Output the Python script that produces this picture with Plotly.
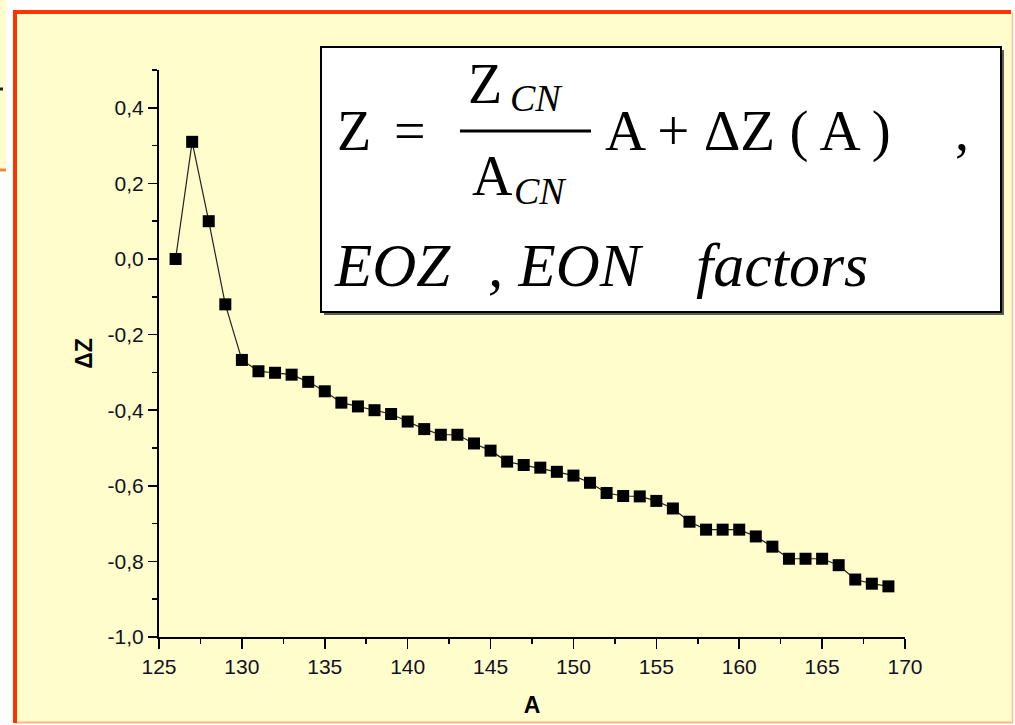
import plotly.graph_objects as go

# ---------------- data ----------------
A_values = [126, 127, 128, 129, 130, 131, 132, 133, 134, 135, 136, 137, 138, 139, 140,
            141, 142, 143, 144, 145, 146, 147, 148, 149, 150, 151, 152, 153, 154, 155,
            156, 157, 158, 159, 160, 161, 162, 163, 164, 165, 166, 167, 168, 169]
dZ_values = [0.00, 0.31, 0.10, -0.12, -0.267, -0.297, -0.301, -0.306, -0.325, -0.35,
             -0.38, -0.39, -0.40, -0.41, -0.43, -0.45, -0.465, -0.465, -0.488, -0.507,
             -0.536, -0.545, -0.552, -0.563, -0.573, -0.592, -0.619, -0.627, -0.628, -0.64,
             -0.66, -0.695, -0.716, -0.716, -0.716, -0.734, -0.761, -0.793, -0.793, -0.793,
             -0.81, -0.848, -0.859, -0.866]

x_tick_vals = [125, 130, 135, 140, 145, 150, 155, 160, 165, 170]
x_tick_text = ["125", "130", "135", "140", "145", "150", "155", "160", "165", "170"]
y_tick_vals = [-1.0, -0.8, -0.6, -0.4, -0.2, 0.0, 0.2, 0.4]
y_tick_text = ["-1,0", "-0,8", "-0,6", "-0,4", "-0,2", "0,0", "0,2", "0,4"]

x_title = "A"
y_title = "ΔZ"

# ---------------- layout geometry ----------------
W, H = 1015, 725
L, R, T, B = 159, 110, 70, 88
PW, PH = W - L - R, H - T - B
CREAM = "#FFFDCC"
RED = "#FF3300"


def px(x):
    return (x - L) / PW


def py(y):
    return (H - B - y) / PH


fig = go.Figure()
fig.add_trace(go.Scatter(
    x=A_values, y=dZ_values, mode="lines+markers",
    line=dict(color="#222222", width=1.2),
    marker=dict(symbol="square", size=12, color="black", line=dict(width=0)),
    showlegend=False, hoverinfo="skip", xaxis="x", yaxis="y"))

axis_font = dict(family="Liberation Sans, Arial, sans-serif", size=21, color="#111122")
title_font = dict(family="Liberation Sans, Arial, sans-serif", size=23, color="black")

common_x = dict(range=[125, 170], tickmode="array", tickvals=x_tick_vals,
                showgrid=False, zeroline=False, showline=True, linecolor="black",
                linewidth=2, tickcolor="black", tickwidth=1.5)
common_y = dict(range=[-1.0, 0.5], tickmode="array", tickvals=y_tick_vals,
                showgrid=False, zeroline=False, showline=True, linecolor="black",
                linewidth=2, tickcolor="black", tickwidth=1.5)

fig.update_layout(
    width=W, height=H,
    margin=dict(l=L, r=R, t=T, b=B, pad=0),
    paper_bgcolor="white", plot_bgcolor="rgba(0,0,0,0)",
    showlegend=False, hovermode=False,
    xaxis=dict(**common_x, ticktext=x_tick_text, ticks="outside", ticklen=10,
               tickfont=axis_font,
               minor=dict(tickmode="linear", tick0=125, dtick=2.5, ticks="outside",
                          ticklen=5, tickwidth=1.5, tickcolor="black"),
               title=dict(text="<b>" + x_title + "</b>", standoff=20, font=title_font)),
    yaxis=dict(**common_y, ticktext=y_tick_text, ticks="outside", ticklen=9,
               tickfont=axis_font,
               minor=dict(tickmode="linear", tick0=-1.0, dtick=0.1, ticks="outside",
                          ticklen=5, tickwidth=1.5, tickcolor="black"),
               title=dict(text="<b>" + y_title + "</b>", standoff=9, font=title_font)),
    xaxis2=dict(**common_x, overlaying="x", anchor="y", side="top", ticks="inside",
                ticklen=10, showticklabels=False,
                minor=dict(tickmode="linear", tick0=125, dtick=2.5, ticks="inside",
                           ticklen=5, tickwidth=1.5, tickcolor="black")),
    yaxis2=dict(**common_y, overlaying="y", anchor="x", side="right", ticks="inside",
                ticklen=9, showticklabels=False,
                minor=dict(tickmode="linear", tick0=-1.0, dtick=0.1, ticks="inside",
                           ticklen=5, tickwidth=1.5, tickcolor="black")),
)

shapes = []
# background slide elements (below)
shapes.append(dict(type="rect", xref="paper", yref="paper", layer="below",
                   x0=px(0), x1=px(6), y0=py(0), y1=py(169), fillcolor=CREAM, line=dict(width=0)))
shapes.append(dict(type="line", xref="paper", yref="paper", layer="below",
                   x0=px(0), x1=px(6), y0=py(170), y1=py(170), line=dict(color="#F08A3A", width=3)))
shapes.append(dict(type="line", xref="paper", yref="paper", layer="below",
                   x0=px(0), x1=px(3), y0=py(89), y1=py(89), line=dict(color="#222222", width=3)))
shapes.append(dict(type="rect", xref="paper", yref="paper", layer="below",
                   x0=px(15), x1=px(1012), y0=py(12), y1=py(722), fillcolor=CREAM, line=dict(width=0)))
shapes.append(dict(type="line", xref="paper", yref="paper", layer="below",
                   x0=px(1012.5), x1=px(1012.5), y0=py(13), y1=py(723), line=dict(color="#FFBE96", width=1.5)))
shapes.append(dict(type="line", xref="paper", yref="paper", layer="below",
                   x0=px(15), x1=px(1013), y0=py(722.5), y1=py(722.5), line=dict(color="#FFB48A", width=2)))
shapes.append(dict(type="line", xref="paper", yref="paper", layer="below",
                   x0=px(15), x1=px(15), y0=py(10), y1=py(723), line=dict(color=RED, width=4)))
shapes.append(dict(type="line", xref="paper", yref="paper", layer="below",
                   x0=px(13), x1=px(1011), y0=py(12), y1=py(12), line=dict(color=RED, width=4)))
# formula box (above)
shapes.append(dict(type="rect", xref="paper", yref="paper", layer="above",
                   x0=px(324), x1=px(1004), y0=py(50), y1=py(315),
                   fillcolor="rgba(40,40,40,0.75)", line=dict(width=0)))
shapes.append(dict(type="rect", xref="paper", yref="paper", layer="above",
                   x0=px(321), x1=px(1001), y0=py(47), y1=py(312),
                   fillcolor="white", line=dict(color="black", width=2)))
shapes.append(dict(type="line", xref="paper", yref="paper", layer="above",
                   x0=px(460), x1=px(591), y0=py(131), y1=py(131),
                   line=dict(color="black", width=3)))
fig.update_layout(shapes=shapes)

SERIF = "Liberation Serif, Times New Roman, serif"


def note(text, x, y, size, xanchor="left", italic=False):
    t = "<i>" + text + "</i>" if italic else text
    return dict(text=t, xref="paper", yref="paper", x=px(x), y=py(y),
                xanchor=xanchor, yanchor="middle", showarrow=False,
                font=dict(family=SERIF, size=size, color="black"))


annotations = [
    note("Z", 354, 131, 56, "center"),
    note("=", 410, 131, 56, "center"),
    note("Z", 485, 84, 56, "center"),
    note("CN", 536, 98, 38, "center", italic=True),
    note("A", 492, 176, 56, "center"),
    note("CN", 540, 191, 38, "center", italic=True),
    note("A + ΔZ ( A )", 603, 131, 57, "left"),
    note(",", 962, 131, 56, "center"),
    note("EOZ", 332, 265, 61, "left", italic=True),
    note(", EON", 486, 265, 61, "left", italic=True),
    note("factors", 694, 265, 62, "left", italic=True),
]
fig.update_layout(annotations=annotations)

fig.write_html("out.html",
               config={"displayModeBar": False, "staticPlot": True},
               post_script="document.body.style.margin='0px';"
                           "document.body.style.overflow='hidden';")
